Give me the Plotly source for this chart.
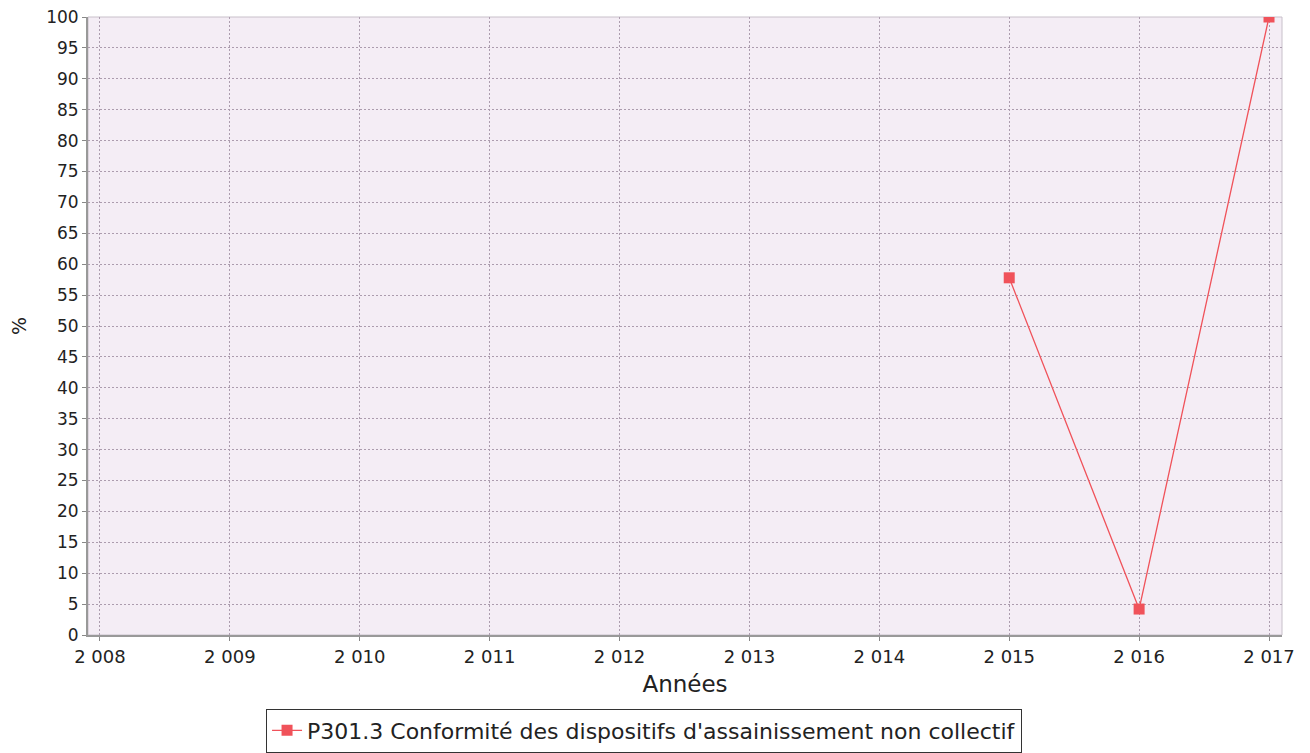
import plotly.graph_objects as go

years = [2015, 2016, 2017]
values = [57.8, 4.2, 100.0]
x_ticks = list(range(2008, 2018))
x_ticktext = ["2 008", "2 009", "2 010", "2 011", "2 012", "2 013", "2 014", "2 015", "2 016", "2 017"]
y_ticks = list(range(0, 101, 5))
series_name = "P301.3 Conformité des dispositifs d'assainissement non collectif"

fig = go.Figure()
fig.add_trace(go.Scatter(
    x=years, y=values, mode="lines+markers", name=series_name,
    line=dict(color="#F0525A", width=1.3),
    marker=dict(symbol="square", size=11, color="#F0525A"),
    cliponaxis=True,
))

# page body has an 8px default margin, so the figure starts at (8, 8)
fig.update_layout(
    width=1302, height=745,
    margin=dict(l=80, r=28, t=9, b=118, autoexpand=False),
    paper_bgcolor="white",
    plot_bgcolor="#F4EDF5",
    font=dict(family="DejaVu Sans", color="#222222"),
    showlegend=True,
    legend=dict(
        orientation="h", x=0.4657, xanchor="center", y=-0.119, yanchor="top",
        bordercolor="#333333", borderwidth=1, bgcolor="white",
        font=dict(size=22, family="DejaVu Sans", color="#222222"),
        itemwidth=30,
    ),
)
fig.update_xaxes(
    range=[2007.908, 2017.1],
    tickvals=x_ticks, ticktext=x_ticktext,
    tickfont=dict(size=18),
    ticks="outside", ticklen=4, tickcolor="#888888",
    showgrid=True, gridcolor="#AC9CAE", griddash="2px,2px", gridwidth=1,
    showline=True, linecolor="#999999", linewidth=2, mirror=False,
    zeroline=False, automargin=False, ticklabeloverflow="allow",
    title=dict(text="Années", font=dict(size=23), standoff=10),
)
fig.update_yaxes(
    range=[0, 100],
    tickvals=y_ticks,
    tickfont=dict(size=17),
    ticks="outside", ticklen=4, tickcolor="#888888",
    showgrid=True, gridcolor="#AC9CAE", griddash="2px,2px", gridwidth=1,
    showline=True, linecolor="#999999", linewidth=2,
    zeroline=False, automargin=False, ticklabeloverflow="allow",
    title=dict(text="%", font=dict(size=19), standoff=20),
)
fig.add_shape(type="rect", xref="paper", yref="paper", x0=0, y0=0, x1=1, y1=1,
              line=dict(color="#C8C0CA", width=1), layer="below")

fig.write_html("out.html")
